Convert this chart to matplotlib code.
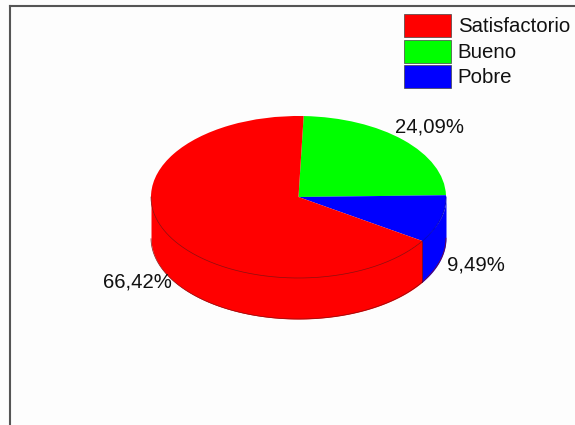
import numpy as np
import matplotlib
matplotlib.use('Agg')
import matplotlib.pyplot as plt
from matplotlib.lines import Line2D
from matplotlib.patches import Patch

plt.rcParams['font.family'] = ['Liberation Sans', 'DejaVu Sans']

categories = ['Satisfactorio', 'Bueno', 'Pobre']
values = [66.42, 24.09, 9.49]
colors = ['#ff0000', '#00ff00', '#0000ff']
edge = '#8a1010'
W, H = 575, 425

# slice order on the pie, clockwise from the top
pie_order = [1, 2, 0]
start = 88.0

# pixel helpers, y measured from the top of the image
def fx(x):
    return x / W
def fy(y):
    return 1 - y / H

fig = plt.figure(figsize=(W / 100, H / 100), dpi=100, facecolor='#fdfdfd')

# axes box is the bounding box of the top ellipse, so the unit pie gets squashed
cx, cy, rx, ry, depth = 298.5, 197, 147.5, 81, 41
ax = fig.add_axes([fx(cx - rx), fy(cy + ry), 2 * rx / W, 2 * ry / H])

# side wall, drawn under the pie
boundaries = start - np.cumsum([0] + [values[i] for i in pie_order]) * 3.6
d = depth / ry
for k, i in enumerate(pie_order):
    a0, a1 = boundaries[k], boundaries[k + 1]
    # only the front half of the rim shows
    t = np.radians(np.linspace(a0, a1, 200))
    t = t[np.sin(t) <= 0]
    if len(t) == 0:
        continue
    x, y = np.cos(t), np.sin(t)
    # small overlap upwards so no pale hairline shows under the top face
    ax.fill_between(x, y * 0.97, y - d, color=colors[i], lw=0, clip_on=False, zorder=1)
    ax.plot(x, y - d, color=edge, lw=0.5, clip_on=False, zorder=2)

# the one visible seam on the wall, where the blue slice meets the red one
seam = np.radians(boundaries[2])
ax.plot([np.cos(seam)] * 2, [np.sin(seam), np.sin(seam) - d], color='#400040', lw=0.5,
        clip_on=False, zorder=2)

wedges, _ = ax.pie([values[i] for i in pie_order], colors=[colors[i] for i in pie_order],
                   startangle=start, counterclock=False, radius=1, center=(0, 0),
                   wedgeprops={'edgecolor': 'none', 'linewidth': 0})
for w in wedges:
    w.set_zorder(3)
    w.set_clip_on(False)

# thin dark rim along the front of the top face
t = np.radians(np.linspace(180, 360 + boundaries[2], 200))
ax.plot(np.cos(t), np.sin(t), color=edge, lw=0.5, clip_on=False, zorder=4)
t = np.radians(np.linspace(boundaries[2], 0, 60))
ax.plot(np.cos(t), np.sin(t), color='#0000c8', lw=0.7, clip_on=False, zorder=4)
ax.set_aspect('auto')
ax.set_xlim(-1, 1)
ax.set_ylim(-1, 1)
ax.axis('off')

# percent labels
label_pos = [(137, 282), (429, 127), (476, 265)]
for v, (px, py) in zip(values, label_pos):
    fig.text(fx(px), fy(py), f'{v:.2f}%'.replace('.', ','), fontsize=14.6,
             ha='center', va='center', color='#111111')

# only the top and left of the frame are inside the picture
fig.add_artist(Line2D([fx(10), fx(10)], [fy(6), 0], color='#555555', lw=1.5))
fig.add_artist(Line2D([fx(10), 1], [fy(6), fy(6)], color='#555555', lw=1.5))

handles = [Patch(facecolor=c, edgecolor='#444444', linewidth=0.5) for c in colors]
fig.legend(handles, categories, loc='upper left', bbox_to_anchor=(fx(404), fy(14)),
           frameon=False, fontsize=14.7, handlelength=2.3, handleheight=1.36,
           handletextpad=0.33, labelspacing=0.12, borderpad=0, borderaxespad=0,
           labelcolor='#111111')

fig.savefig('out.png', dpi=100, facecolor=fig.get_facecolor())
